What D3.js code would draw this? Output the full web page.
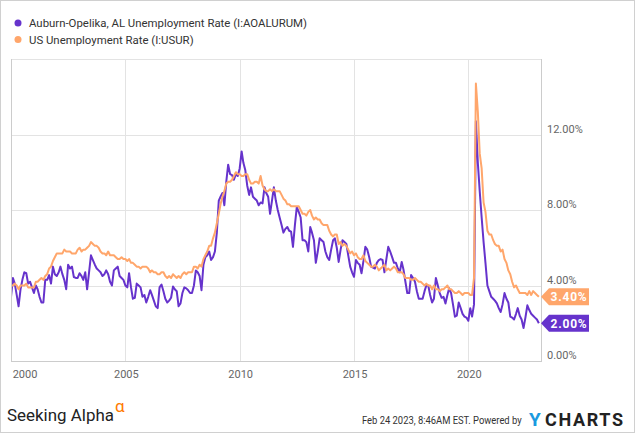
<!DOCTYPE html>
<html>
<head>
<meta charset="utf-8">
<script src="https://cdn.jsdelivr.net/npm/d3@7"></script>
<style>
  body { margin: 0; background: #fff; }
  svg { display: block; font-family: Roboto, "Noto Sans", sans-serif; }
</style>
</head>
<body>
<svg id="chart" width="635" height="433"></svg>
<script>
// monthly values, first entry is Dec 1999, last is Jan 2023 (plotted at month end)
var auburnRate = [
  3.4,4.4,4.1,3.5,2.9,3.8,4.3,4.7,4.65,4.1,4.2,3.9,
  3.6,4.0,3.8,3.4,3.1,3.1,4.3,4.3,4.55,4.1,5.0,4.6,
  4.5,4.7,5.0,4.6,4.3,3.8,5.1,4.9,5.0,4.45,4.4,4.4,
  4.65,4.5,4.3,4.7,3.8,4.7,5.6,5.35,5.1,4.9,4.8,4.7,
  4.5,4.6,4.8,4.6,4.2,4.0,4.8,4.9,5.0,4.5,4.4,4.3,
  4.0,3.9,4.65,3.9,3.3,3.35,4.1,4.0,3.9,3.4,3.5,3.1,
  3.4,3.75,3.5,3.2,2.9,2.8,3.9,4.05,3.7,3.3,3.1,3.2,
  3.35,3.95,3.8,3.7,2.9,3.05,3.6,3.9,3.85,3.75,3.6,3.6,
  4.0,4.8,4.7,4.5,3.75,5.1,5.5,5.6,5.8,5.35,5.5,5.8,
  6.8,8.5,8.7,8.9,8.25,9.5,10.4,9.9,9.85,9.6,9.9,9.8,
  10.2,11.1,10.5,10.1,9.3,8.8,9.2,8.7,8.6,8.5,8.25,8.4,
  8.35,9.2,8.9,8.7,7.8,8.5,9.2,8.5,8.0,7.6,7.2,6.8,
  7.0,7.1,6.9,6.85,6.05,7.2,8.15,7.9,7.6,6.4,6.4,6.3,
  5.8,7.1,6.8,6.4,5.2,5.8,6.5,6.4,6.3,5.8,5.5,5.35,
  5.9,6.4,6.5,6.0,5.25,5.9,6.4,6.3,6.2,5.6,5.0,4.7,
  4.46,5.35,5.2,5.1,4.65,5.3,6.05,5.9,5.5,5.0,4.95,4.9,
  5.2,5.35,5.4,5.35,4.7,5.4,6.05,5.8,5.5,5.2,5.2,4.9,
  4.7,5.25,4.85,4.2,3.6,3.6,4.55,4.4,4.2,3.7,3.3,3.3,
  3.3,3.7,4.0,4.0,3.5,3.1,3.3,4.4,4.0,3.6,3.35,3.4,
  3.05,3.5,3.85,3.6,3.0,2.35,2.4,3.1,2.8,2.5,2.35,2.3,
  2.13,2.8,2.35,3.0,12.7,10.5,9.0,7.6,6.3,5.2,4.0,3.7,
  3.4,3.3,3.2,3.05,2.8,2.6,3.0,3.6,3.3,3.1,2.35,2.3,
  2.2,2.5,2.8,2.4,2.2,1.75,2.3,2.95,2.7,2.5,2.4,2.3,
  2.2,2.0
];
var usRate = [
  4.0,
  4.0,4.1,4.0,3.8,4.0,4.0,4.0,4.1,3.9,3.9,3.9,3.9,
  4.2,4.2,4.3,4.4,4.3,4.5,4.6,4.9,5.0,5.3,5.5,5.7,
  5.7,5.7,5.7,5.9,5.8,5.8,5.8,5.7,5.7,5.7,5.9,6.0,
  5.8,5.9,5.9,6.0,6.1,6.3,6.2,6.1,6.1,6.0,5.8,5.7,
  5.7,5.6,5.8,5.6,5.6,5.6,5.5,5.4,5.4,5.5,5.4,5.4,
  5.3,5.4,5.2,5.2,5.1,5.0,5.0,4.9,5.0,5.0,5.0,4.9,
  4.7,4.8,4.7,4.7,4.6,4.6,4.7,4.7,4.5,4.4,4.5,4.4,
  4.6,4.5,4.4,4.5,4.4,4.6,4.7,4.6,4.7,4.7,4.7,5.0,
  5.0,4.9,5.1,5.0,5.4,5.6,5.8,6.1,6.1,6.5,6.8,7.3,
  7.8,8.3,8.7,9.0,9.4,9.5,9.5,9.6,9.8,10.0,9.9,9.9,
  9.8,9.8,9.9,9.9,9.6,9.4,9.4,9.5,9.5,9.4,9.8,9.3,
  9.1,9.0,9.0,9.1,9.0,9.1,9.0,9.0,9.0,8.8,8.6,8.5,
  8.3,8.3,8.2,8.2,8.2,8.2,8.2,8.0,7.8,7.8,7.7,7.9,
  8.0,7.7,7.5,7.6,7.5,7.5,7.3,7.2,7.2,7.2,6.9,6.7,
  6.6,6.7,6.7,6.2,6.3,6.1,6.2,6.1,5.9,5.7,5.8,5.6,
  5.7,5.5,5.4,5.4,5.6,5.3,5.2,5.1,5.0,5.0,5.1,5.0,
  4.8,4.9,5.0,5.1,4.8,4.9,4.8,4.9,5.0,4.9,4.7,4.7,
  4.7,4.6,4.4,4.4,4.4,4.3,4.3,4.4,4.3,4.2,4.2,4.1,
  4.0,4.1,4.0,4.0,3.8,4.0,3.8,3.8,3.7,3.8,3.8,3.9,
  4.0,3.8,3.8,3.7,3.6,3.6,3.7,3.6,3.5,3.6,3.6,3.6,
  3.5,3.5,4.4,14.7,13.2,11.0,10.2,8.4,7.9,6.9,6.7,6.7,
  6.4,6.2,6.1,6.1,5.8,5.9,5.4,5.2,4.8,4.6,4.2,3.9,
  4.0,3.8,3.6,3.6,3.6,3.6,3.5,3.7,3.5,3.7,3.6,3.5,
  3.4
];
var seriesNames = ['Auburn-Opelika, AL Unemployment Rate (I:AOALURUM)', 'US Unemployment Rate (I:USUR)'];
var seriesColors = ['#6633cc', '#ffa66b'];
var yTicks = [0, 4, 8, 12];
var yTickLabels = ['0.00%', '4.00%', '8.00%', '12.00%'];
var xTickYears = [2000, 2005, 2010, 2015, 2020];
var lastLabels = ['2.00%', '3.40%'];

var svg = d3.select('#chart');
var plotLeft = 11, plotRight = 541, plotTop = 59, plotBottom = 361;

var x = d3.scaleTime()
    .domain([new Date(2000, 0, 1), new Date(2023, 2, 7)])
    .range([plotLeft, plotRight]);
var y = d3.scaleLinear()
    .domain([0, 16])
    .range([plotBottom, plotTop]);

// first value is Dec 1999, plotted at end of month (= 1st of next month)
var toPoints = function(arr) {
  return arr.map(function(v, i) {
    return { date: d3.timeMonth.offset(new Date(2000, 0, 1), i), value: v };
  });
};
var series = [toPoints(auburnRate), toPoints(usRate)];

// outer frame
svg.append('rect')
  .attr('x', 0.5).attr('y', 0.5)
  .attr('width', 634).attr('height', 432)
  .attr('fill', 'none')
  .attr('stroke', '#d0d0d0');

// legend
var legend = svg.selectAll('.legend')
  .data(seriesNames)
  .enter()
  .append('g')
  .attr('class', 'legend')
  .attr('transform', function(d, i) {
    return 'translate(18,' + (23 + i * 16.5) + ')';
  });
legend.append('circle')
  .attr('r', 3.5)
  .attr('fill', function(d, i) { return seriesColors[i]; });
legend.append('text')
  .attr('x', 11)
  .attr('y', 4)
  .attr('font-size', '11.4px')
  .attr('fill', '#333')
  .text(function(d) { return d; });

// grid
svg.selectAll('.hgrid')
  .data(yTicks.filter(function(d) { return d > 0; }))
  .enter()
  .append('line')
  .attr('x1', plotLeft).attr('x2', plotRight)
  .attr('y1', function(d) { return Math.round(y(d)) + 0.5; })
  .attr('y2', function(d) { return Math.round(y(d)) + 0.5; })
  .attr('stroke', '#e3e3e3');

svg.selectAll('.vgrid')
  .data(xTickYears.slice(1))
  .enter()
  .append('line')
  .attr('y1', plotTop).attr('y2', plotBottom)
  .attr('x1', function(d) { return Math.round(x(new Date(d, 0, 1))) + 0.5; })
  .attr('x2', function(d) { return Math.round(x(new Date(d, 0, 1))) + 0.5; })
  .attr('stroke', '#e3e3e3');

// frame of plot
svg.append('line')
  .attr('x1', plotLeft).attr('x2', plotRight)
  .attr('y1', plotTop + 0.5).attr('y2', plotTop + 0.5)
  .attr('stroke', '#e3e3e3');
svg.append('line')
  .attr('x1', plotLeft).attr('x2', plotRight + 0.5)
  .attr('y1', plotBottom + 0.5).attr('y2', plotBottom + 0.5)
  .attr('stroke', '#cccccc');
[plotLeft, plotRight].forEach(function(px) {
  svg.append('line')
    .attr('x1', px + 0.5).attr('x2', px + 0.5)
    .attr('y1', plotTop).attr('y2', plotBottom + 1)
    .attr('stroke', '#cccccc');
});

// lines
svg.append('clipPath')
  .attr('id', 'plotclip')
  .append('rect')
  .attr('x', plotLeft + 1).attr('y', plotTop)
  .attr('width', plotRight - plotLeft - 1).attr('height', plotBottom - plotTop);

var line = d3.line()
  .x(function(d) { return x(d.date); })
  .y(function(d) { return y(d.value); });

svg.append('g')
  .attr('clip-path', 'url(#plotclip)')
  .selectAll('path')
  .data(series)
  .enter()
  .append('path')
  .attr('d', line)
  .attr('fill', 'none')
  .attr('stroke', function(d, i) { return seriesColors[i]; })
  .attr('stroke-width', 2)
  .attr('stroke-linejoin', 'round');

// y axis labels (right side)
svg.selectAll('.ylab')
  .data(yTicks)
  .enter()
  .append('text')
  .attr('x', 547)
  .attr('y', function(d) { return y(d) - 2; })
  .attr('font-size', '11px')
  .attr('fill', '#666')
  .text(function(d, i) { return yTickLabels[i]; });

// x axis labels
svg.selectAll('.xlab')
  .data(xTickYears)
  .enter()
  .append('text')
  .attr('x', function(d, i) {
    var px = x(new Date(d, 0, 1));
    return i === 0 ? px + 14 : px + 1;
  })
  .attr('y', 378)
  .attr('text-anchor', 'middle')
  .attr('font-size', '11px')
  .attr('fill', '#666')
  .text(function(d) { return d; });

// last value tags
var lastVals = [auburnRate[auburnRate.length - 1], usRate[usRate.length - 1]];
var tags = svg.selectAll('.tag')
  .data(lastVals)
  .enter()
  .append('g')
  .attr('transform', function(d) { return 'translate(541,' + y(d) + ')'; });
tags.append('path')
  .attr('d', 'M0,0 L8,-8.5 L48,-8.5 L48,8.5 L8,8.5 Z')
  .attr('fill', function(d, i) { return seriesColors[i]; });
tags.append('text')
  .attr('x', 28)
  .attr('y', 4.5)
  .attr('text-anchor', 'middle')
  .attr('font-size', '12px')
  .attr('font-weight', 'bold')
  .attr('letter-spacing', '0.8px')
  .attr('fill', '#fff')
  .text(function(d, i) { return lastLabels[i]; });

// footer - squeeze texts horizontally to the widths seen in the original
var squeezed = function(str, px, py, size, width, color) {
  var t = svg.append('text')
    .attr('font-size', size)
    .attr('fill', color)
    .text(str);
  var w = t.node().getComputedTextLength();
  t.attr('transform', 'translate(' + px + ',' + py + ') scale(' + (width / w) + ',1)');
  return t;
};
squeezed('Seeking Alpha', 7, 421, '17px', 107, '#222');
svg.append('text')
  .attr('x', 115).attr('y', 412)
  .attr('font-size', '17px')
  .attr('fill', '#ff7a00')
  .text('α');
squeezed('Feb 24 2023, 8:46AM EST.  Powered by', 362, 424, '11px', 160, '#333');
svg.append('text')
  .attr('x', 529).attr('y', 426)
  .attr('font-size', '19px')
  .attr('font-weight', 'bold')
  .attr('fill', '#1a9ae0')
  .text('Y');
svg.append('text')
  .attr('x', 545).attr('y', 426)
  .attr('font-size', '18px')
  .attr('font-weight', 'bold')
  .attr('fill', '#222')
  .attr('textLength', 78)
  .text('CHARTS');
</script>
</body>
</html>
